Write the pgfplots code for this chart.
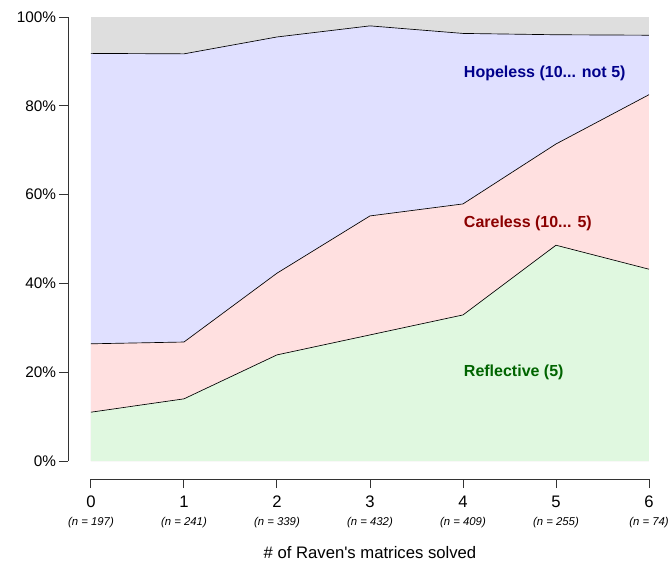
\documentclass[border=0pt]{standalone}
\usepackage{pgfplots}
\pgfplotsset{compat=1.18}
\usepackage{fontspec}
\setmainfont{Liberation Sans}

\definecolor{greyarea}{HTML}{DEDEDE}
\definecolor{bluearea}{HTML}{E0E0FF}
\definecolor{pinkarea}{HTML}{FFE0E0}
\definecolor{greenarea}{HTML}{E0F8E0}
\definecolor{hopetxt}{HTML}{00008B}
\definecolor{caretxt}{HTML}{8B0000}
\definecolor{refltxt}{HTML}{006400}

% cumulative shares (%) per number of matrices solved
\pgfplotstableread{
x refl care hope
0 11.0 26.4 91.8
1 14.0 26.8 91.7
2 23.9 42.3 95.5
3 28.4 55.2 98.0
4 32.9 57.9 96.3
5 48.6 71.4 96.0
6 43.2 82.5 95.9
}\shares

\begin{document}
\begin{tikzpicture}
\begin{axis}[
  x=69.75pt, y=3.33pt,
  xmin=-0.247, xmax=6, ymin=-4.05, ymax=100,
  axis x line*=bottom, axis y line*=left,
  axis line style={draw=none},
  clip=false,
  tick align=outside,
  major tick length=6.75pt,
  tick style={black!80, line width=0.7pt},
  ytick={0,20,40,60,80,100},
  yticklabels={0\%,20\%,40\%,60\%,80\%,100\%},
  yticklabel style={font=\fontsize{11.5}{13}\selectfont, inner sep=2pt},
  xtick={0,...,6},
  xticklabels={
    {0\\[-1pt]{\fontsize{8.5}{10}\selectfont\itshape (n = 197)}},
    {1\\[-1pt]{\fontsize{8.5}{10}\selectfont\itshape (n = 241)}},
    {2\\[-1pt]{\fontsize{8.5}{10}\selectfont\itshape (n = 339)}},
    {3\\[-1pt]{\fontsize{8.5}{10}\selectfont\itshape (n = 432)}},
    {4\\[-1pt]{\fontsize{8.5}{10}\selectfont\itshape (n = 409)}},
    {5\\[-1pt]{\fontsize{8.5}{10}\selectfont\itshape (n = 255)}},
    {6\\[-1pt]{\fontsize{8.5}{10}\selectfont\itshape (n = 74)}}},
  xticklabel style={align=center, font=\fontsize{12.5}{14}\selectfont, inner sep=2pt, yshift=-4pt},
]
% areas, top to bottom
\addplot[fill=greyarea, draw=none] coordinates {(0,0) (0,100) (6,100) (6,0)};
\addplot[fill=bluearea, draw=none] table[x=x, y=hope] {\shares} |- (axis cs:0,0) -- cycle;
\addplot[fill=pinkarea, draw=none] table[x=x, y=care] {\shares} |- (axis cs:0,0) -- cycle;
\addplot[fill=greenarea, draw=none] table[x=x, y=refl] {\shares} |- (axis cs:0,0) -- cycle;
% boundaries
\addplot[black, line width=0.5pt] table[x=x, y=hope] {\shares};
\addplot[black, line width=0.5pt] table[x=x, y=care] {\shares};
\addplot[black, line width=0.5pt] table[x=x, y=refl] {\shares};

% detached axis lines
\draw[black!80, line width=0.7pt] (axis cs:-0.247,0) -- (axis cs:-0.247,100);
\draw[black!80, line width=0.7pt] (axis cs:0,-4.05) -- (axis cs:6,-4.05);

\node[anchor=west, text=hopetxt, font=\fontsize{12}{14}\selectfont\bfseries] at (axis cs:3.96,87.2) {Hopeless (10... not 5)};
\node[anchor=west, text=caretxt, font=\fontsize{12}{14}\selectfont\bfseries] at (axis cs:3.96,53.6) {Careless (10... 5)};
\node[anchor=west, text=refltxt, font=\fontsize{12}{14}\selectfont\bfseries] at (axis cs:3.96,20.0) {Reflective (5)};

\node[font=\fontsize{12.5}{14}\selectfont] at (axis cs:3,-20.7) {\# of Raven\textquotesingle s matrices solved};

\coordinate (bl) at (axis cs:-0.978,-23.87);
\coordinate (tr) at (axis cs:6.226,103.83);
\end{axis}
\pgfresetboundingbox
\path[use as bounding box] (bl) rectangle (tr);
\end{tikzpicture}
\end{document}
